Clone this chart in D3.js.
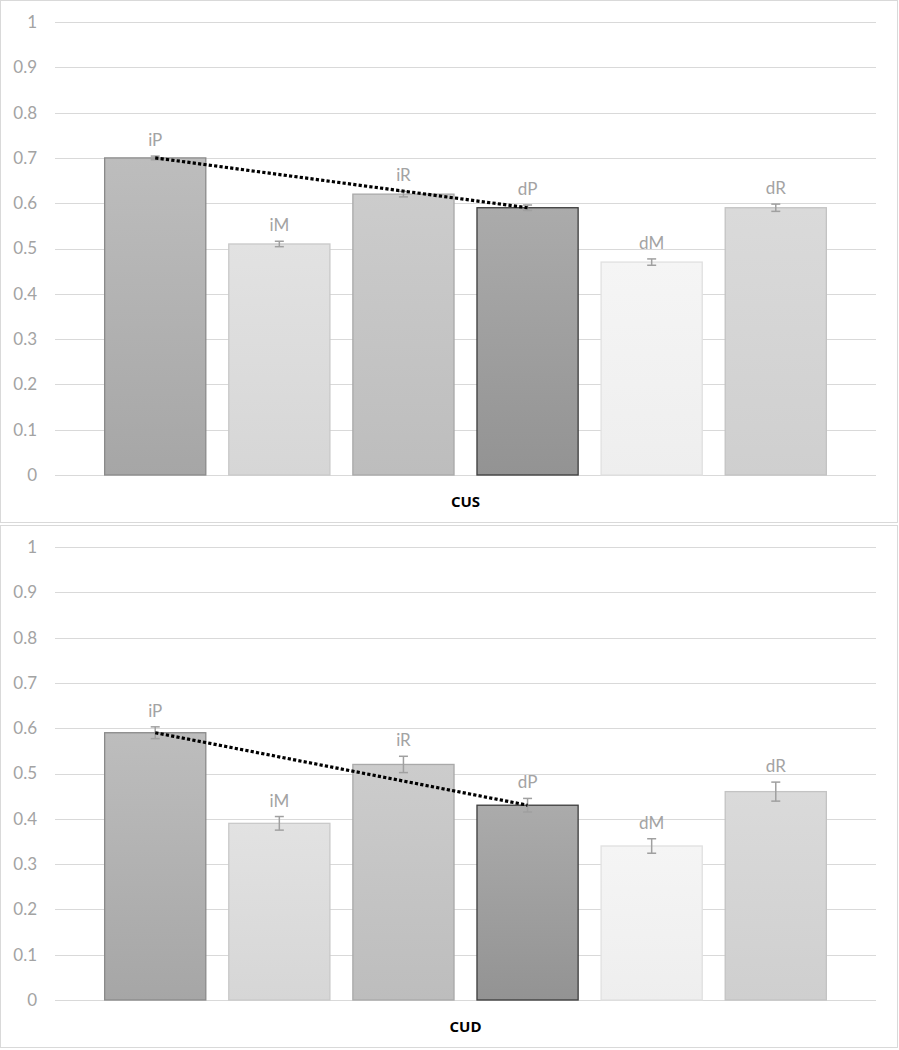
<!DOCTYPE html>
<html>
<head>
<meta charset="utf-8">
<script src="https://cdn.jsdelivr.net/npm/d3@7"></script>
<style>
  body { margin: 0; background: #fff; }
  svg { display: block; }
</style>
</head>
<body>
<div id="chart"></div>
<script>
// data
const series = ["iP", "iM", "iR", "dP", "dM", "dR"]
const panels = ["CUS", "CUD"]
const cusValues = [0.70, 0.51, 0.62, 0.59, 0.47, 0.59]
const cusErrors = [0.004, 0.006, 0.006, 0.006, 0.007, 0.008]
const cudValues = [0.59, 0.39, 0.52, 0.43, 0.34, 0.46]
const cudErrors = [0.013, 0.015, 0.018, 0.015, 0.016, 0.021]
const yTicks = [0, 0.1, 0.2, 0.3, 0.4, 0.5, 0.6, 0.7, 0.8, 0.9, 1]
const trendFrom = "iP"
const trendTo = "dP"

// bar fills: gradient top, gradient bottom, outline
const barColors = {
    iP: ["#bdbdbd", "#a6a6a6", "#8a8a8a"],
    iM: ["#e2e2e2", "#d6d6d6", "#c9c9c9"],
    iR: ["#cccccc", "#bdbdbd", "#a9a9a9"],
    dP: ["#ababab", "#939393", "#3c3c3c"],
    dM: ["#f5f5f5", "#eeeeee", "#e0e0e0"],
    dR: ["#dadada", "#cfcfcf", "#c3c3c3"],
}

const dimensions = {
    width: 899,
    height: 1050,
    panelHeight: 522,
    panelGap: 3,
    margin: { top: 22, right: 23, bottom: 48, left: 55 },
}
dimensions.boundedWidth = dimensions.width - dimensions.margin.left - dimensions.margin.right
dimensions.boundedHeight = dimensions.panelHeight + 1 - dimensions.margin.top - dimensions.margin.bottom

const wrapper = d3.select("#chart")
    .append("svg")
    .attr("width", dimensions.width)
    .attr("height", dimensions.height)

const defs = wrapper.append("defs")
series.forEach(s => {
    const grad = defs.append("linearGradient")
        .attr("id", "grad-" + s)
        .attr("x1", 0).attr("y1", 0)
        .attr("x2", 0).attr("y2", 1)
    grad.append("stop").attr("offset", "0%").attr("stop-color", barColors[s][0])
    grad.append("stop").attr("offset", "100%").attr("stop-color", barColors[s][1])
})

// scales (same for both panels)
const yScale = d3.scaleLinear()
    .domain([0, 1])
    .range([dimensions.boundedHeight, 0])

const xScale = d3.scaleBand()
    .domain(series)
    .range([0, dimensions.boundedWidth])
    .paddingInner(0.185)
    .paddingOuter(0.4)

const draw_panel = (name, i) => {
    const values = i === 0 ? cusValues : cudValues
    const errors = i === 0 ? cusErrors : cudErrors
    const data = series.map((s, j) => ({ s, v: values[j], e: errors[j] }))
    const offsetY = i * (dimensions.panelHeight + dimensions.panelGap)

    const panel = wrapper.append("g")
        .attr("transform", `translate(0, ${offsetY})`)

    panel.append("rect")
        .attr("x", 0.5)
        .attr("y", 0.5)
        .attr("width", dimensions.width - 2)
        .attr("height", dimensions.panelHeight)
        .attr("fill", "#fff")
        .attr("stroke", "#d9d9d9")

    const bounds = panel.append("g")
        .attr("transform", `translate(${dimensions.margin.left}, ${dimensions.margin.top})`)

    // gridlines
    bounds.selectAll(".grid")
        .data(yTicks)
        .enter()
        .append("line")
        .attr("x1", 0)
        .attr("x2", dimensions.boundedWidth)
        .attr("y1", d => Math.round(yScale(d)) + 0.5)
        .attr("y2", d => Math.round(yScale(d)) + 0.5)
        .attr("stroke", "#d9d9d9")
        .attr("stroke-width", 1.2)

    // y axis labels
    const yAxisGenerator = d3.axisLeft(yScale)
        .tickValues(yTicks)
        .tickFormat(d3.format("~g"))
        .tickSize(0)
        .tickPadding(18)
    const yAxis = bounds.append("g").call(yAxisGenerator)
    yAxis.select(".domain").remove()
    yAxis.selectAll("text")
        .attr("fill", "#a3a3a3")
        .attr("font-family", "Lato, sans-serif")
        .attr("font-size", 17)

    // bars
    bounds.selectAll(".bar")
        .data(data)
        .enter()
        .append("rect")
        .attr("x", d => xScale(d.s))
        .attr("y", d => yScale(d.v))
        .attr("width", xScale.bandwidth())
        .attr("height", d => yScale(0) - yScale(d.v))
        .attr("fill", d => `url(#grad-${d.s})`)
        .attr("stroke", d => barColors[d.s][2])
        .attr("stroke-width", 1.3)

    // error bars
    const cx = d => xScale(d.s) + xScale.bandwidth() / 2
    const err = bounds.selectAll(".err")
        .data(data)
        .enter()
        .append("g")
        .attr("stroke", "#a0a0a0")
        .attr("stroke-width", 1.5)
    err.append("line")
        .attr("x1", cx).attr("x2", cx)
        .attr("y1", d => yScale(d.v + d.e))
        .attr("y2", d => yScale(d.v - d.e))
    err.append("line")
        .attr("x1", d => cx(d) - 4.5).attr("x2", d => cx(d) + 4.5)
        .attr("y1", d => yScale(d.v + d.e))
        .attr("y2", d => yScale(d.v + d.e))
    err.append("line")
        .attr("x1", d => cx(d) - 4.5).attr("x2", d => cx(d) + 4.5)
        .attr("y1", d => yScale(d.v - d.e))
        .attr("y2", d => yScale(d.v - d.e))

    // series labels
    bounds.selectAll(".lbl")
        .data(data)
        .enter()
        .append("text")
        .attr("x", cx)
        .attr("y", d => yScale(d.v + d.e) - 10)
        .attr("text-anchor", "middle")
        .attr("fill", "#a3a3a3")
        .attr("font-family", "Lato, sans-serif")
        .attr("font-size", 17)
        .text(d => d.s)

    // dotted line between iP and dP
    const trend = data.filter(d => d.s === trendFrom || d.s === trendTo)
    const lineGenerator = d3.line()
        .x(cx)
        .y(d => yScale(d.v))
    bounds.append("path")
        .attr("d", lineGenerator(trend))
        .attr("fill", "none")
        .attr("stroke", "#000")
        .attr("stroke-width", 3.2)
        .attr("stroke-dasharray", "3.2,2.2")

    // category label
    bounds.append("text")
        .attr("x", dimensions.boundedWidth / 2)
        .attr("y", dimensions.boundedHeight + 32)
        .attr("text-anchor", "middle")
        .attr("fill", "#000")
        .attr("font-family", "'Open Sans', sans-serif")
        .attr("font-weight", 700)
        .attr("font-size", 15)
        .text(name)
}

panels.forEach(draw_panel)
</script>
</body>
</html>
